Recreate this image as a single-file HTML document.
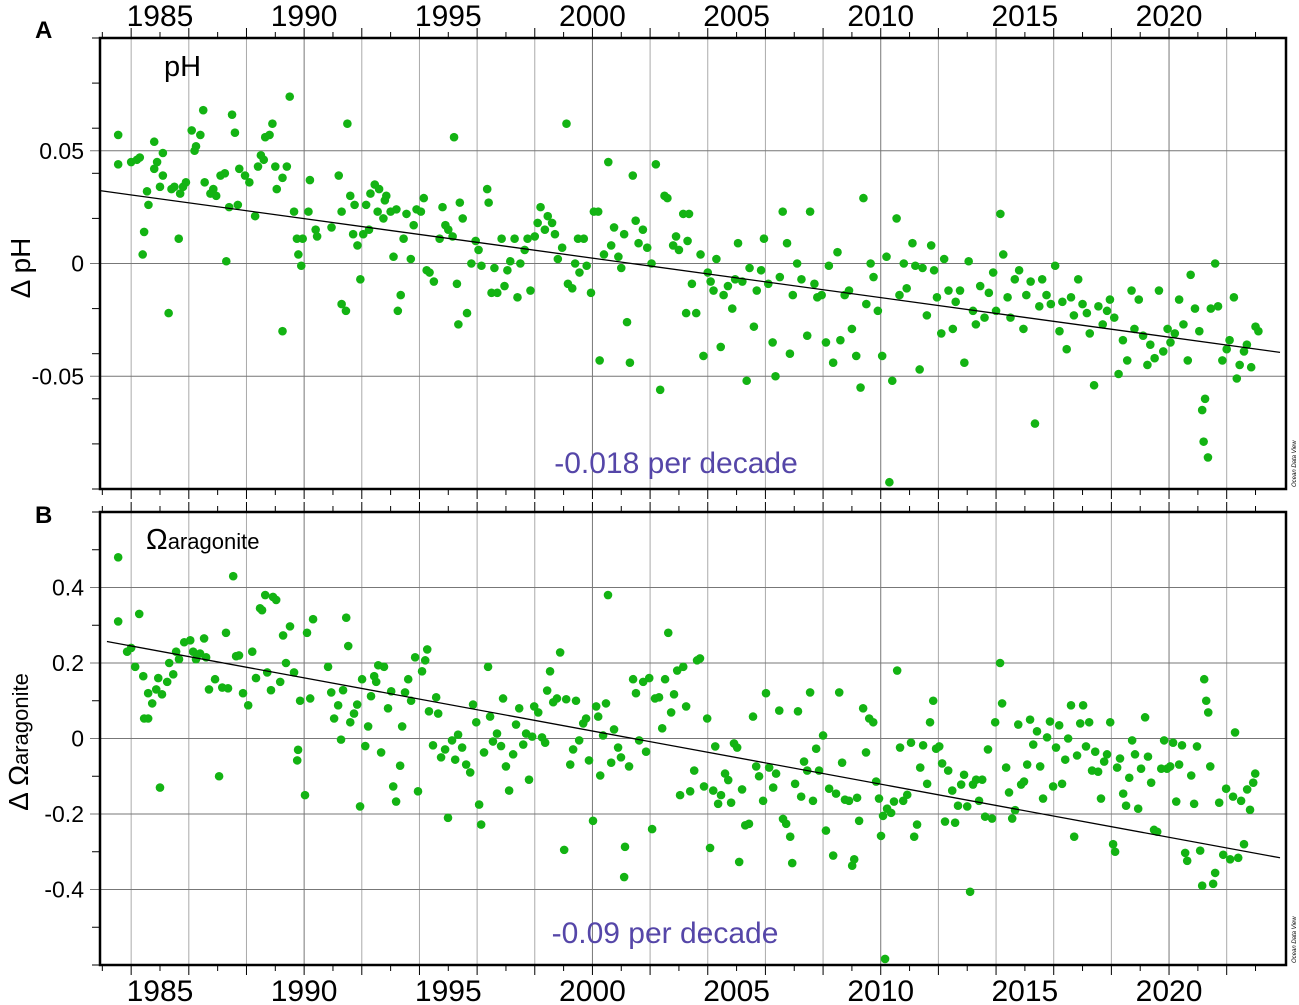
<!DOCTYPE html>
<html><head><meta charset="utf-8"><style>
html,body{margin:0;padding:0;background:#fff;}
svg{display:block;font-family:"Liberation Sans",sans-serif;}
</style></head><body>
<svg id="chart" width="1299" height="1005" viewBox="0 0 1299 1005" xmlns="http://www.w3.org/2000/svg"></svg>
<script>
const ptsA = [[1983.55,0.057],[1983.55,0.044],[1984.0,0.045],[1984.2,0.046],[1984.3,0.047],[1984.45,0.014],[1984.4,0.004],[1984.55,0.032],[1984.6,0.026],[1984.8,0.054],[1984.8,0.042],[1984.9,0.045],[1985.0,0.034],[1985.1,0.049],[1985.1,0.039],[1985.3,-0.022],[1985.4,0.033],[1985.5,0.034],[1985.65,0.011],[1985.7,0.031],[1985.8,0.034],[1985.9,0.036],[1986.1,0.059],[1986.2,0.05],[1986.25,0.052],[1986.4,0.057],[1986.5,0.068],[1986.55,0.036],[1986.75,0.031],[1986.85,0.033],[1986.95,0.03],[1987.1,0.039],[1987.25,0.04],[1987.3,0.001],[1987.4,0.025],[1987.5,0.066],[1987.6,0.058],[1987.7,0.026],[1987.75,0.042],[1987.95,0.039],[1988.1,0.036],[1988.3,0.021],[1988.4,0.043],[1988.5,0.048],[1988.6,0.046],[1988.65,0.056],[1988.8,0.057],[1988.9,0.062],[1989.0,0.043],[1989.05,0.033],[1989.25,0.038],[1989.25,-0.03],[1989.4,0.043],[1989.5,0.074],[1989.65,0.023],[1989.75,0.011],[1989.8,0.004],[1989.9,-0.001],[1989.95,0.011],[1990.15,0.023],[1990.2,0.037],[1990.4,0.015],[1990.45,0.012],[1990.95,0.016],[1991.2,0.039],[1991.3,0.023],[1991.3,-0.018],[1991.45,-0.021],[1991.5,0.062],[1991.6,0.03],[1991.7,0.013],[1991.75,0.026],[1991.85,0.008],[1991.95,-0.007],[1992.05,0.013],[1992.15,0.026],[1992.25,0.015],[1992.3,0.031],[1992.45,0.035],[1992.55,0.023],[1992.6,0.033],[1992.75,0.02],[1992.8,0.028],[1992.85,0.03],[1993.0,0.023],[1993.1,0.003],[1993.2,0.024],[1993.25,-0.021],[1993.35,-0.014],[1993.45,0.011],[1993.55,0.022],[1993.7,0.002],[1993.8,0.017],[1993.9,0.024],[1994.05,0.023],[1994.15,0.029],[1994.25,-0.003],[1994.35,-0.004],[1994.5,-0.008],[1994.7,0.011],[1994.8,0.025],[1994.9,0.017],[1995.0,0.015],[1995.15,0.012],[1995.2,0.056],[1995.3,-0.009],[1995.35,-0.027],[1995.4,0.027],[1995.5,0.02],[1995.65,-0.022],[1995.8,0.0],[1995.95,0.01],[1996.05,0.006],[1996.15,-0.001],[1996.35,0.033],[1996.4,0.027],[1996.5,-0.013],[1996.6,-0.002],[1996.7,-0.013],[1996.85,0.011],[1996.95,-0.01],[1997.05,-0.003],[1997.15,0.001],[1997.3,0.011],[1997.4,-0.015],[1997.5,0.0],[1997.65,0.006],[1997.75,0.011],[1997.85,-0.012],[1998.0,0.012],[1998.1,0.018],[1998.2,0.025],[1998.35,0.015],[1998.45,0.021],[1998.6,0.018],[1998.7,0.013],[1998.8,0.002],[1998.95,0.007],[1999.1,0.062],[1999.15,-0.009],[1999.3,-0.011],[1999.4,0.0],[1999.5,0.011],[1999.55,-0.004],[1999.7,0.011],[1999.8,-0.001],[1999.95,-0.013],[2000.05,0.023],[2000.2,0.023],[2000.25,-0.043],[2000.4,0.004],[2000.55,0.045],[2000.65,0.008],[2000.75,0.016],[2000.9,0.003],[2001.0,-0.002],[2001.1,0.013],[2001.2,-0.026],[2001.3,-0.044],[2001.4,0.039],[2001.5,0.019],[2001.6,0.009],[2001.75,0.015],[2001.9,0.007],[2002.05,0.0],[2002.2,0.044],[2002.35,-0.056],[2002.5,0.03],[2002.6,0.029],[2002.8,0.008],[2002.9,0.012],[2003.0,0.006],[2003.15,0.022],[2003.3,0.01],[2003.35,0.022],[2003.25,-0.022],[2003.45,-0.009],[2003.6,-0.022],[2003.75,0.004],[2003.85,-0.041],[2004.0,-0.004],[2004.1,-0.008],[2004.2,-0.012],[2004.3,0.002],[2004.45,-0.037],[2004.55,-0.014],[2004.7,-0.01],[2004.85,-0.02],[2004.95,-0.007],[2005.05,0.009],[2005.2,-0.008],[2005.35,-0.052],[2005.45,-0.002],[2005.6,-0.028],[2005.7,-0.012],[2005.85,-0.003],[2005.95,0.011],[2006.1,-0.009],[2006.25,-0.035],[2006.35,-0.05],[2006.5,-0.006],[2006.6,0.023],[2006.75,0.009],[2006.85,-0.04],[2006.95,-0.014],[2007.1,0.0],[2007.25,-0.007],[2007.45,-0.032],[2007.55,0.023],[2007.7,-0.009],[2007.8,-0.015],[2007.95,-0.014],[2008.1,-0.035],[2008.2,-0.001],[2008.35,-0.044],[2008.5,0.005],[2008.6,-0.034],[2008.75,-0.014],[2008.9,-0.012],[2009.0,-0.029],[2009.15,-0.041],[2009.3,-0.055],[2009.4,0.029],[2009.5,-0.018],[2009.65,0.0],[2009.75,-0.006],[2009.9,-0.021],[2010.05,-0.041],[2010.2,0.003],[2010.3,-0.097],[2010.4,-0.052],[2010.55,0.02],[2010.65,-0.014],[2010.8,0.0],[2010.9,-0.011],[2011.1,0.009],[2011.2,-0.001],[2011.35,-0.047],[2011.45,-0.002],[2011.6,-0.023],[2011.75,0.008],[2011.85,-0.003],[2011.95,-0.015],[2012.1,-0.031],[2012.2,0.002],[2012.35,-0.012],[2012.5,-0.029],[2012.6,-0.017],[2012.75,-0.012],[2012.9,-0.044],[2013.05,0.001],[2013.2,-0.021],[2013.3,-0.027],[2013.45,-0.01],[2013.6,-0.024],[2013.75,-0.013],[2013.9,-0.004],[2014.0,-0.021],[2014.15,0.022],[2014.25,0.004],[2014.4,-0.015],[2014.5,-0.024],[2014.65,-0.007],[2014.8,-0.003],[2014.95,-0.029],[2015.05,-0.014],[2015.2,-0.008],[2015.35,-0.071],[2015.5,-0.019],[2015.6,-0.007],[2015.75,-0.014],[2015.9,-0.018],[2016.05,-0.001],[2016.2,-0.03],[2016.3,-0.017],[2016.45,-0.038],[2016.6,-0.015],[2016.7,-0.023],[2016.85,-0.007],[2017.0,-0.018],[2017.15,-0.022],[2017.25,-0.031],[2017.4,-0.054],[2017.55,-0.019],[2017.7,-0.027],[2017.85,-0.021],[2017.95,-0.016],[2018.1,-0.024],[2018.25,-0.049],[2018.4,-0.034],[2018.55,-0.043],[2018.7,-0.012],[2018.8,-0.029],[2018.95,-0.016],[2019.1,-0.032],[2019.25,-0.045],[2019.35,-0.036],[2019.5,-0.042],[2019.65,-0.012],[2019.8,-0.039],[2019.95,-0.029],[2020.05,-0.035],[2020.2,-0.031],[2020.35,-0.016],[2020.5,-0.027],[2020.65,-0.043],[2020.75,-0.005],[2020.9,-0.02],[2021.05,-0.03],[2021.15,-0.065],[2021.2,-0.079],[2021.25,-0.06],[2021.35,-0.086],[2021.45,-0.02],[2021.6,0.0],[2021.7,-0.019],[2021.85,-0.043],[2022.0,-0.038],[2022.1,-0.034],[2022.25,-0.015],[2022.35,-0.051],[2022.45,-0.045],[2022.6,-0.039],[2022.7,-0.036],[2022.85,-0.046],[2023.0,-0.028],[2023.1,-0.03]];
const ptsB = [[1983.55,.48],[1983.55,.31],[1983.86,.23],[1984.0,.24],[1984.14,.19],[1984.28,.33],[1984.42,.165],[1984.45,.053],[1984.59,.053],[1984.59,.12],[1984.73,.093],[1984.87,.13],[1984.94,.16],[1985.0,-.13],[1985.07,.117],[1985.25,.15],[1985.32,.2],[1985.46,.17],[1985.56,.23],[1985.66,.21],[1985.84,.255],[1986.05,.26],[1986.15,.23],[1986.25,.21],[1986.39,.225],[1986.53,.265],[1986.6,.215],[1986.7,.13],[1986.91,.157],[1987.05,-.1],[1987.16,.135],[1987.29,.28],[1987.36,.133],[1987.54,.43],[1987.64,.218],[1987.74,.22],[1987.88,.12],[1988.06,.088],[1988.2,.23],[1988.33,.16],[1988.47,.345],[1988.54,.34],[1988.65,.38],[1988.72,.175],[1988.85,.128],[1988.92,.375],[1989.03,.367],[1989.17,.15],[1989.27,.273],[1989.37,.2],[1989.51,.297],[1989.65,.175],[1989.76,-.058],[1989.79,-.03],[1989.86,.1],[1990.03,-.15],[1990.1,.28],[1990.21,.106],[1990.31,.316],[1990.83,.19],[1990.94,.122],[1991.04,.053],[1991.18,.088],[1991.28,-.003],[1991.35,.128],[1991.46,.32],[1991.53,.245],[1991.6,.043],[1991.73,.066],[1991.84,.09],[1991.94,-.18],[1992.01,.157],[1992.12,-.02],[1992.22,.032],[1992.32,.112],[1992.43,.165],[1992.5,.15],[1992.57,.194],[1992.67,-.037],[1992.77,.19],[1992.91,.08],[1993.02,.125],[1993.09,-.127],[1993.19,-.167],[1993.33,-.072],[1993.4,.032],[1993.5,.122],[1993.61,.157],[1993.71,.1],[1993.85,.215],[1993.95,-.14],[1994.09,.178],[1994.2,.207],[1994.27,.236],[1994.33,.072],[1994.47,-.018],[1994.58,.109],[1994.65,.066],[1994.75,-.05],[1994.89,-.029],[1994.99,-.21],[1995.13,-.005],[1995.24,-.056],[1995.34,.01],[1995.48,-.024],[1995.62,-.069],[1995.76,-.09],[1995.86,.09],[1995.97,.043],[1996.07,-.175],[1996.14,-.228],[1996.24,-.037],[1996.38,.19],[1996.45,.058],[1996.55,-.008],[1996.69,.013],[1996.83,-.02],[1996.9,.106],[1997.0,-.074],[1997.11,-.138],[1997.25,-.042],[1997.35,.037],[1997.46,.08],[1997.6,-.016],[1997.7,.013],[1997.8,-.109],[1997.91,.005],[1997.98,.085],[1998.12,.069],[1998.25,.003],[1998.36,-.011],[1998.43,.127],[1998.53,.178],[1998.64,.096],[1998.77,.106],[1998.88,.228],[1999.02,-.295],[1999.09,.104],[1999.23,-.069],[1999.33,-.029],[1999.43,.1],[1999.54,-.005],[1999.68,.04],[1999.78,.053],[1999.88,-.058],[2000.02,-.218],[2000.13,.085],[2000.2,.058],[2000.27,-.098],[2000.37,.008],[2000.47,.093],[2000.54,.38],[2000.65,-.064],[2000.75,.024],[2000.89,-.024],[2000.99,-.05],[2001.1,-.367],[2001.13,-.287],[2001.27,-.074],[2001.41,.157],[2001.51,.12],[2001.62,-.005],[2001.76,.15],[2001.86,-.035],[2001.97,.16],[2002.07,-.24],[2002.17,.106],[2002.31,.109],[2002.42,.027],[2002.52,.157],[2002.63,.28],[2002.73,.069],[2002.83,.117],[2002.94,.18],[2003.04,-.15],[2003.15,.19],[2003.25,.085],[2003.39,-.14],[2003.53,-.085],[2003.63,.207],[2003.73,.212],[2003.87,-.127],[2003.98,.053],[2004.08,-.29],[2004.19,-.138],[2004.26,-.021],[2004.36,-.173],[2004.46,-.15],[2004.6,-.093],[2004.71,-.11],[2004.81,-.17],[2004.91,-.013],[2005.02,-.024],[2005.09,-.327],[2005.19,-.135],[2005.3,-.23],[2005.43,-.226],[2005.57,.058],[2005.68,-.074],[2005.78,-.1],[2005.92,-.165],[2006.02,.12],[2006.13,-.077],[2006.27,-.13],[2006.37,-.093],[2006.48,.074],[2006.61,-.213],[2006.72,-.226],[2006.86,-.26],[2006.93,-.33],[2007.03,-.12],[2007.13,.072],[2007.24,-.154],[2007.34,-.061],[2007.45,-.085],[2007.55,.122],[2007.65,-.165],[2007.76,-.027],[2007.86,-.085],[2008.0,.008],[2008.1,-.244],[2008.21,-.133],[2008.35,-.31],[2008.45,-.146],[2008.56,.122],[2008.66,-.064],[2008.76,-.162],[2008.9,-.165],[2009.01,-.337],[2009.08,-.32],[2009.18,-.157],[2009.25,-.218],[2009.39,.08],[2009.49,-.037],[2009.6,.053],[2009.74,.043],[2009.84,-.114],[2009.94,-.159],[2010.01,-.258],[2010.08,-.205],[2010.15,-.584],[2010.22,-.186],[2010.36,-.197],[2010.46,-.167],[2010.57,.18],[2010.67,-.024],[2010.78,-.165],[2010.92,-.149],[2011.05,-.011],[2011.16,-.26],[2011.26,-.228],[2011.37,-.077],[2011.47,-.018],[2011.61,-.12],[2011.71,.043],[2011.82,.1],[2011.92,-.027],[2012.03,-.021],[2012.13,-.066],[2012.23,-.22],[2012.34,-.085],[2012.48,-.138],[2012.58,-.223],[2012.68,-.178],[2012.79,-.122],[2012.89,-.096],[2013.0,-.18],[2013.1,-.406],[2013.2,-.122],[2013.31,-.109],[2013.41,-.165],[2013.52,-.109],[2013.62,-.207],[2013.72,-.029],[2013.86,-.212],[2013.97,.043],[2014.14,.2],[2014.21,.093],[2014.35,-.077],[2014.45,-.143],[2014.56,-.212],[2014.66,-.19],[2014.77,.037],[2014.87,-.122],[2014.97,-.114],[2015.08,-.069],[2015.18,.05],[2015.29,-.016],[2015.42,.019],[2015.53,-.074],[2015.63,-.159],[2015.77,.003],[2015.87,.045],[2015.98,-.127],[2016.08,-.024],[2016.19,.035],[2016.29,-.12],[2016.4,-.056],[2016.5,0],[2016.6,.088],[2016.71,-.26],[2016.81,-.045],[2016.92,.04],[2017.02,.088],[2017.12,-.021],[2017.23,.043],[2017.33,-.085],[2017.44,-.035],[2017.54,-.088],[2017.64,-.159],[2017.75,-.061],[2017.85,-.042],[2017.96,.043],[2018.06,-.28],[2018.13,-.3],[2018.2,-.077],[2018.3,-.053],[2018.41,-.146],[2018.51,-.178],[2018.62,-.104],[2018.72,-.005],[2018.82,-.042],[2018.93,-.186],[2019.03,-.08],[2019.17,.056],[2019.27,-.048],[2019.38,-.117],[2019.48,-.242],[2019.59,-.247],[2019.73,-.08],[2019.83,-.005],[2019.93,-.08],[2020.04,-.074],[2020.14,-.011],[2020.25,-.167],[2020.35,-.069],[2020.45,-.018],[2020.56,-.303],[2020.63,-.324],[2020.77,-.098],[2020.87,-.173],[2020.97,-.021],[2021.08,-.297],[2021.15,-.39],[2021.22,.157],[2021.29,.1],[2021.36,.069],[2021.43,-.074],[2021.53,-.385],[2021.6,-.356],[2021.74,-.17],[2021.88,-.308],[2021.98,-.133],[2022.12,-.32],[2022.22,-.154],[2022.29,.016],[2022.4,-.316],[2022.5,-.165],[2022.6,-.28],[2022.71,-.135],[2022.81,-.189],[2022.92,-.117],[2022.99,-.093]];
const trendA = [[1982.92,0.0323],[2023.85,-0.0394]];
const trendB = [[1983.16,0.257],[2023.85,-0.316]];
const yearLabels = [1985,1990,1995,2000,2005,2010,2015,2020];
const ticksA = [0.05,0,-0.05];
const tickLabelsA = ["0.05","0","-0.05"];
const ticksB = [0.4,0.2,0,-0.2,-0.4];
const tickLabelsB = ["0.4","0.2","0","-0.2","-0.4"];

const NS="http://www.w3.org/2000/svg";
const svg=document.getElementById('chart');
function mk(tag,attrs,parent){const e=document.createElementNS(NS,tag);for(const k in attrs)e.setAttribute(k,attrs[k]);(parent||svg).appendChild(e);return e;}
const X0=100,X1=1286;
const xs=y=>98+(y-1982.85)*28.83;

function panel(cfg){
  const g=mk('g',{});
  
  
  const ys=v=>cfg.top+(cfg.vmax-v)/(cfg.vmax-cfg.vmin)*(cfg.bot-cfg.top);
  for(let yr=1984;yr<=2023;yr+=2){const x=xs(yr);
    const l=mk('line',{x1:x,x2:x,y1:cfg.top,y2:cfg.bot,stroke:(yr%10==0)?'#777':'#aaa','stroke-width':1},g);
    
    }
  for(let yr=1983;yr<=2023;yr++){const x=xs(yr);const len=(yr%2==0)?10:6;
    [[cfg.top,-len],[cfg.bot,len]].forEach(([ty,d])=>{
      const t=mk('line',{x1:x,x2:x,y1:ty,y2:ty+d,stroke:'#000','stroke-width':1},g);
      
      });}
  for(let v=cfg.vmin;v<=cfg.vmax+1e-9;v+=cfg.minor){const y=ys(v);
    const t=mk('line',{x1:X0-8,x2:X0,y1:y,y2:y,stroke:'#000','stroke-width':1},g);
    
    }
  cfg.ticks.forEach((v,i)=>{const y=ys(v);
    const l=mk('line',{x1:X0-10,x2:X1,y1:y,y2:y,stroke:'#777','stroke-width':1},g);
    
    
    const t=mk('text',{x:X0-16,y:y+8,'text-anchor':'end','font-size':23,fill:'#000'},g);
    t.textContent=cfg.tickLabels[i];
    
    });
  const fr=mk('rect',{x:X0,y:cfg.top,width:X1-X0,height:cfg.bot-cfg.top,fill:'none',stroke:'#000','stroke-width':2.5},g);
  
  
  cfg.pts.forEach(p=>{
    const c=mk('circle',{cx:xs(p[0]),cy:ys(p[1]),r:4.3,fill:'#13b313'},g);
    
    });
  const tl=mk('line',{x1:xs(cfg.trend[0][0]),y1:ys(cfg.trend[0][1]),x2:xs(cfg.trend[1][0]),y2:ys(cfg.trend[1][1]),stroke:'#000','stroke-width':1.3},g);
  
  
  const od=mk('text',{x:0,y:0,'font-size':6,'font-style':'italic',fill:'#000',transform:`translate(1296,${cfg.bot-2}) rotate(-90)`},g);
  od.textContent='Ocean Data View';
  
  
}
panel({name:'panel-a-ph',top:38,bot:489,vmax:0.1,vmin:-0.1,minor:0.02,ticks:ticksA,tickLabels:tickLabelsA,pts:ptsA,trend:trendA});
panel({name:'panel-b-aragonite',top:512,bot:965,vmax:0.6,vmin:-0.6,minor:0.1,ticks:ticksB,tickLabels:tickLabelsB,pts:ptsB,trend:trendB});
yearLabels.forEach(yr=>{
  const a=mk('text',{x:xs(yr),y:26,'text-anchor':'middle','font-size':30,fill:'#000'});
  a.textContent=yr;
  
  
  const b=mk('text',{x:xs(yr),y:1001,'text-anchor':'middle','font-size':30,fill:'#000'});
  b.textContent=yr;
  
  
});
</script>
<svg style="position:absolute;left:0;top:0" width="1299" height="1005">
<text x="35" y="38" font-family="Liberation Sans" font-weight="bold" font-size="24">A</text>
<text x="35" y="523" font-family="Liberation Sans" font-weight="bold" font-size="24">B</text>
<text x="164" y="76" font-family="Liberation Sans" font-size="29">pH</text>
<text x="146" y="549" font-family="Liberation Sans" font-size="29">Ω<tspan font-size="22">aragonite</tspan></text>
<text transform="translate(30,268) rotate(-90)" text-anchor="middle" font-family="Liberation Sans" font-size="28">Δ pH</text>
<text transform="translate(28,742) rotate(-90)" text-anchor="middle" font-family="Liberation Sans" font-size="28">Δ Ω<tspan font-size="22">aragonite</tspan></text>
<text x="676" y="473" text-anchor="middle" font-family="Liberation Sans" font-size="30" fill="#5546a8">-0.018 per decade</text>
<text x="665" y="943" text-anchor="middle" font-family="Liberation Sans" font-size="30" fill="#5546a8">-0.09 per decade</text>
</svg>
</body></html>
